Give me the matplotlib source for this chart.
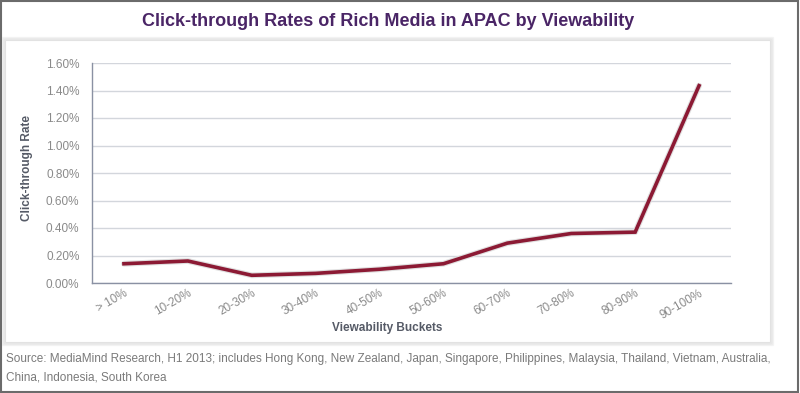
import matplotlib.pyplot as plt
from matplotlib.patches import Rectangle
from matplotlib.ticker import FuncFormatter

# Data
buckets = ['> 10%', '10-20%', '20-30%', '30-40%', '40-50%',
           '50-60%', '60-70%', '70-80%', '80-90%', '90-100%']
ctr = [0.14, 0.16, 0.056, 0.07, 0.10, 0.14, 0.29, 0.36, 0.37, 1.435]

plt.rcParams['font.family'] = ['Liberation Sans', 'DejaVu Sans']

W, H = 800, 393
fig = plt.figure(figsize=(W / 100, H / 100), dpi=100)
fig.patch.set_facecolor('white')

# outer border
fig.patches.append(Rectangle((0.001, 0.002), 0.997, 0.996, transform=fig.transFigure,
                             fill=False, edgecolor='#6b6b6b', linewidth=1.5, zorder=-5))
# panel with soft shadow
for i, a in enumerate([0.04, 0.06, 0.08]):
    d = (3 - i) / W
    fig.patches.append(Rectangle((5 / W - d, 1 - 342 / H - d * W / H), 765 / W + 2 * d,
                                 302 / H + 2 * d * W / H, transform=fig.transFigure,
                                 facecolor='none', edgecolor=(0, 0, 0, a), linewidth=1,
                                 zorder=-10))
fig.patches.append(Rectangle((5 / W, 1 - 342 / H), 765 / W, 302 / H, transform=fig.transFigure,
                             facecolor='white', edgecolor='#e2e2e2', linewidth=0.8, zorder=-9))

fig.text(388 / W, 1 - 22 / H, 'Click-through Rates of Rich Media in APAC by Viewability',
         ha='center', va='center', fontsize=13, fontweight='bold', color='#4a2566')

ax = fig.add_axes([92 / W, 1 - 283 / H, (731 - 92) / W, 220 / H])
ax.set_facecolor('none')
x = range(len(buckets))
ax.plot(x, ctr, color='#e0e0e0', linewidth=4.2, solid_capstyle='round', zorder=2)
ax.plot(x, ctr, color='#8c1a34', linewidth=2.6, solid_joinstyle='miter', zorder=3)

ax.set_xlim(-0.5, len(buckets) - 0.5)
ax.set_ylim(0, 1.6)
ax.set_yticks([0, 0.2, 0.4, 0.6, 0.8, 1.0, 1.2, 1.4, 1.6])
ax.yaxis.set_major_formatter(FuncFormatter(lambda v, p: f'{v:.2f}%'))
ax.set_xticks(list(x))
ax.set_xticklabels(buckets, rotation=30, ha='right', rotation_mode='anchor')
ax.grid(axis='y', color='#d3d6dc', linewidth=1)
ax.set_axisbelow(True)
for s in ['top', 'right']:
    ax.spines[s].set_visible(False)
for s in ['left', 'bottom']:
    ax.spines[s].set_color('#8a91a3')
    ax.spines[s].set_linewidth(1)
ax.tick_params(axis='both', length=0, labelsize=8.5, labelcolor='#8a8a8a')
ax.tick_params(axis='y', pad=9)
ax.tick_params(axis='x', pad=3)

fig.text(27 / W, 1 - 168 / H, 'Click-through Rate', rotation=90, ha='center', va='center',
         fontsize=8.5, fontweight='bold', color='#555a66')
fig.text(387 / W, 1 - 328 / H, 'Viewability Buckets', ha='center', va='center',
         fontsize=8.5, fontweight='bold', color='#555a66')

fig.text(6 / W, 1 - 359 / H,
         'Source: MediaMind Research, H1 2013; includes Hong Kong, New Zealand, Japan, Singapore, '
         'Philippines, Malaysia, Thailand, Vietnam, Australia,',
         ha='left', va='center', fontsize=8.5, color='#7a7a7a')
fig.text(6 / W, 1 - 377 / H, 'China, Indonesia, South Korea',
         ha='left', va='center', fontsize=8.5, color='#7a7a7a')

fig.savefig('out.png', dpi=100)
